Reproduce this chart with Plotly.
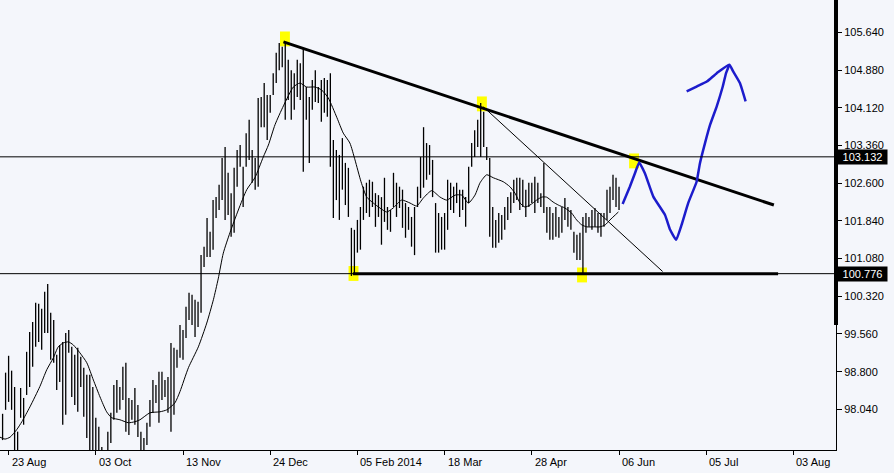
import plotly.graph_objects as go

# ---------------- data ----------------
bar_start = -2
highs = [97.95, 98.78, 99.12, 98.82, 98.49, 97.59, 98.47, 98.27, 99.20, 99.60,
         99.80, 100.19, 100.17, 100.07, 100.41, 100.57, 99.99, 99.84, 99.14, 99.34,
         99.40, 99.58, 99.64, 99.30, 99.14, 99.28, 99.10, 98.88, 98.74, 98.74,
         98.49, 97.87, 97.69, 97.28, 97.12, 97.59, 97.97, 98.53, 98.63, 98.49,
         98.90, 98.98, 98.27, 98.23, 98.47, 98.13, 97.59, 97.46, 97.77, 98.23,
         98.63, 98.53, 98.80, 98.80, 98.63, 98.69, 99.38, 99.28, 99.24, 99.74,
         99.64, 100.11, 100.39, 100.35, 100.25, 100.21, 101.15, 101.32, 101.90, 101.62,
         102.26, 102.32, 102.57, 103.11, 103.33, 102.81, 102.40, 102.91, 103.27, 103.37,
         102.93, 103.61, 103.88, 103.27, 103.11, 104.32, 104.34, 104.62, 104.38, 104.38,
         104.82, 105.23, 105.43, 105.35, 105.45, 105.09, 104.88, 104.82, 105.09, 105.02,
         105.33, 104.54, 104.34, 104.68, 104.88, 104.54, 104.68, 104.72, 104.68, 104.82,
         103.47, 103.27, 103.17, 103.51, 103.01, 102.91, 101.70, 101.66, 101.86, 102.12,
         102.53, 102.61, 102.67, 102.63, 102.40, 102.36, 102.32, 102.71, 102.12, 102.06,
         102.81, 102.61, 102.53, 102.47, 102.20, 102.12, 101.92, 102.12, 102.53, 103.13,
         103.73, 103.41, 103.37, 103.07, 102.20, 102.00, 101.92, 102.00, 102.67, 102.61,
         102.53, 102.61, 102.47, 102.47, 102.32, 102.93, 103.41, 103.67, 103.88, 104.22,
         104.04, 103.33, 103.11, 102.12, 101.86, 102.00, 101.96, 102.12, 102.32, 102.42,
         102.67, 102.71, 102.71, 102.67, 102.47, 102.61, 102.61, 102.73, 102.61, 102.40,
         103.01, 102.12, 102.12, 102.00, 102.12, 101.92, 102.12, 102.30, 102.12, 102.06,
         101.62, 101.56, 101.60, 101.92, 102.00, 101.92, 102.06, 102.10, 102.00, 102.00,
         102.00, 102.47, 102.53, 102.77, 102.71, 102.53]
lows = [97.42, 98.03, 98.19, 98.03, 97.12, 97.12, 97.87, 97.73, 98.33, 98.49,
        98.90, 99.30, 99.40, 99.24, 99.58, 99.58, 99.04, 98.98, 98.43, 98.59,
        97.73, 97.93, 99.18, 98.29, 98.13, 97.99, 98.49, 97.89, 97.46, 97.12,
        97.12, 97.12, 97.12, 97.06, 96.92, 97.12, 97.36, 97.83, 97.97, 98.03,
        98.23, 97.59, 97.52, 97.83, 97.73, 97.48, 97.12, 97.12, 97.32, 97.69,
        97.97, 98.17, 97.77, 98.23, 98.29, 97.97, 97.59, 97.93, 98.88, 99.08,
        99.04, 99.48, 99.84, 99.74, 99.50, 99.70, 99.99, 100.91, 101.11, 101.11,
        101.26, 101.90, 102.06, 102.26, 101.86, 101.96, 101.52, 101.60, 102.53, 102.93,
        102.12, 102.93, 103.07, 102.61, 102.47, 102.53, 103.73, 103.73, 103.47, 104.02,
        104.38, 104.62, 104.88, 104.94, 103.88, 104.28, 103.88, 104.08, 104.34, 104.28,
        102.83, 103.88, 103.01, 104.08, 104.24, 104.22, 103.84, 104.02, 103.94, 102.93,
        101.90, 102.26, 101.86, 102.47, 102.16, 101.92, 100.73, 100.77, 101.20, 101.26,
        101.86, 102.00, 101.92, 102.12, 101.72, 101.92, 101.36, 101.82, 101.66, 101.62,
        102.12, 101.92, 102.10, 101.70, 101.50, 101.66, 101.32, 101.15, 102.12, 102.30,
        102.51, 102.67, 102.77, 102.32, 101.20, 101.20, 101.26, 101.26, 101.66, 102.06,
        102.00, 102.20, 101.92, 102.06, 101.72, 102.20, 102.93, 103.13, 103.33, 103.13,
        103.33, 103.07, 101.52, 101.30, 101.30, 101.40, 101.46, 101.66, 101.86, 102.00,
        102.20, 102.26, 102.06, 102.12, 101.92, 102.12, 102.20, 102.00, 102.20, 102.12,
        102.00, 101.60, 101.46, 101.46, 101.52, 101.50, 101.60, 101.86, 101.72, 101.66,
        101.20, 101.05, 101.05, 100.77, 101.60, 101.72, 101.66, 101.72, 101.60, 101.52,
        101.72, 101.86, 102.00, 102.26, 102.12, 102.06]

ma_idx = [-2.9, -1.2, 0.5, 2.7, 4.4, 7.1, 10.4, 12.7, 14.9, 16.5, 18.2, 19.9, 21.5, 23.7,
          26.0, 28.2, 30.4, 32.6, 34.3, 37.0, 39.8, 42.0, 43.7, 47.0, 50.3, 52.6, 55.3,
          57.0, 59.8, 63.1, 65.9, 68.1, 69.7, 71.4, 73.6, 76.4, 79.2, 81.9, 84.7, 86.4,
          88.6, 91.4, 94.7, 96.9, 99.1, 101.9, 104.1, 106.3, 109.2, 111.3, 113.5, 115.2,
          117.2, 119.1, 121.3, 123.5, 125.7, 127.9, 130.7, 133.5, 135.7, 137.9, 140.7,
          143.5, 145.7, 148.5, 150.7, 152.9, 155.1, 156.8, 159.0, 161.2, 164.5, 166.7,
          168.4, 170.1, 171.7, 173.4, 175.6, 177.3, 178.9, 181.1, 182.8, 185.0, 187.2,
          188.9, 190.6, 192.3, 194.5, 196.7, 198.4, 200.0, 202.8]
ma_val = [97.48, 97.44, 97.48, 97.63, 97.79, 98.09, 98.50, 98.84, 99.08, 99.30, 99.38,
          99.40, 99.34, 99.18, 98.98, 98.63, 98.29, 97.99, 97.87, 97.83, 97.77, 97.79,
          97.83, 97.97, 97.99, 98.03, 98.17, 98.40, 98.88, 99.30, 99.78, 100.25, 100.67,
          101.19, 101.60, 102.06, 102.47, 102.71, 103.13, 103.37, 103.78, 104.16, 104.54,
          104.62, 104.54, 104.54, 104.48, 104.32, 103.92, 103.61, 103.41, 103.07, 102.63,
          102.32, 102.20, 102.10, 102.02, 102.10, 102.26, 102.20, 102.14, 102.30, 102.45,
          102.32, 102.26, 102.36, 102.36, 102.20, 102.36, 102.61, 102.77, 102.71, 102.63,
          102.53, 102.40, 102.20, 102.12, 102.16, 102.26, 102.32, 102.32, 102.22, 102.16,
          102.10, 102.00, 101.86, 101.76, 101.72, 101.72, 101.72, 101.76, 101.86, 102.02]

tick_idx = [0, 29, 58, 87, 116, 145, 174, 203, 232, 261]
tick_text = ["23 Aug", "03 Oct", "13 Nov", "24 Dec", "05 Feb 2014", "18 Mar",
             "28 Apr", "06 Jun", "05 Jul", "03 Aug"]
y_ticks = [98.04, 98.80, 99.56, 100.32, 101.08, 101.84, 102.60, 103.36, 104.12, 104.88, 105.64]

level_hi = 103.132
level_lo = 100.776
range_bar_low = 99.74

down_trend_idx = [91.4, 254.5]
down_trend_val = [105.45, 102.16]
thin_trend_idx = [157.9, 217.5]
thin_trend_val = [104.14, 100.82]
support_idx = [114.5, 255.9]

pivot_idx = [91.9, 157.4, 114.7, 190.7, 208.0]
pivot_val = [105.51, 104.20, 100.78, 100.75, 103.05]

blue_idx = [204.2, 206.6, 208.3, 209.7, 211.6, 214.4, 218.3, 220.0, 222.0, 223.8, 226.0,
            228.8, 229.9, 231.6, 233.3, 235.5, 237.5, 238.6, 239.7]
blue_val = [102.18, 102.53, 102.80, 103.02, 102.80, 102.33, 101.96, 101.66, 101.46, 101.76,
            102.20, 102.63, 103.00, 103.41, 103.78, 104.15, 104.55, 104.82, 104.99]
arrow_idx = [225.5, 228.8, 232.2, 235.5, 239.7, 241.0, 243.2, 245.1]
arrow_val = [104.45, 104.55, 104.65, 104.82, 104.99, 104.85, 104.62, 104.25]

# ---------------- figure ----------------
FONT = "Liberation Sans, Arial, sans-serif"
BG = "#f4f6fb"

bx, by = [], []
for k, (h, l) in enumerate(zip(highs, lows)):
    i = bar_start + k
    bx += [i, i, None]
    by += [l, h, None]

fig = go.Figure()
fig.add_trace(go.Scatter(x=bx, y=by, mode="lines", line=dict(color="black", width=1.3),
                         hoverinfo="skip"))
fig.add_trace(go.Scatter(x=ma_idx, y=ma_val, mode="lines",
                         line=dict(color="black", width=1, shape="spline", smoothing=0.6)))
# horizontal levels
fig.add_hline(y=level_hi, line=dict(color="black", width=1))
fig.add_hline(y=level_lo, line=dict(color="black", width=1))
# trend lines
fig.add_trace(go.Scatter(x=down_trend_idx, y=down_trend_val, mode="lines",
                         line=dict(color="black", width=3)))
fig.add_trace(go.Scatter(x=thin_trend_idx, y=thin_trend_val, mode="lines",
                         line=dict(color="black", width=1)))
fig.add_trace(go.Scatter(x=support_idx, y=[level_lo, level_lo], mode="lines",
                         line=dict(color="black", width=3)))
# blue projection
fig.add_trace(go.Scatter(x=blue_idx, y=blue_val, mode="lines",
                         line=dict(color="#1c1ccc", width=2.5, shape="spline", smoothing=0.4)))
fig.add_trace(go.Scatter(x=arrow_idx, y=arrow_val, mode="lines",
                         line=dict(color="#1c1ccc", width=2.5, shape="spline", smoothing=0.4)))

# yellow pivot markers
for px_, pv in zip(pivot_idx, pivot_val):
    fig.add_shape(type="rect", xref="x", yref="y", x0=px_ - 1.65, x1=px_ + 1.65,
                  y0=pv - 0.15, y1=pv + 0.15, fillcolor="#ffff00",
                  line=dict(width=0), layer="below")

# thick range bar on the price axis
fig.add_shape(type="line", xref="paper", yref="y", x0=1, x1=1, y0=range_bar_low, y1=106.4,
              line=dict(color="black", width=4))

# x labels (left-aligned at ticks)
for ti, tt in zip(tick_idx, tick_text):
    fig.add_annotation(x=ti, xref="x", y=0, yref="paper", yanchor="top", xanchor="left",
                       xshift=1, yshift=-4, text=tt, showarrow=False,
                       font=dict(family=FONT, size=11, color="black"))

# price boxes
for lv in (level_hi, level_lo):
    fig.add_annotation(x=1, xref="paper", xanchor="left", xshift=1, y=lv, yref="y",
                       text=f"{lv:.3f}", showarrow=False, bgcolor="black",
                       font=dict(family=FONT, size=11, color="white"),
                       width=47, height=12, borderpad=1, align="center")

fig.update_layout(
    width=894, height=473,
    margin=dict(l=0, r=58, t=0, b=23),
    plot_bgcolor=BG, paper_bgcolor=BG,
    showlegend=False,
    xaxis=dict(range=[-2.86, 275.16], tickvals=tick_idx, showticklabels=False,
               ticks="outside", ticklen=4, tickcolor="black", showline=True,
               linecolor="black", linewidth=1, showgrid=False, zeroline=False,
               fixedrange=True),
    yaxis=dict(side="right", range=[97.22, 106.295], tickvals=y_ticks,
               ticktext=[f"{v:.3f}" for v in y_ticks], ticks="outside", ticklen=5,
               tickcolor="black", showline=True, linecolor="black", linewidth=1,
               showgrid=False, zeroline=False,
               tickfont=dict(family=FONT, size=11, color="black")),
)

fig.write_html("out.html", config={"displayModeBar": False},
               post_script="document.body.style.margin='0px';document.body.style.background='" + BG + "';")
